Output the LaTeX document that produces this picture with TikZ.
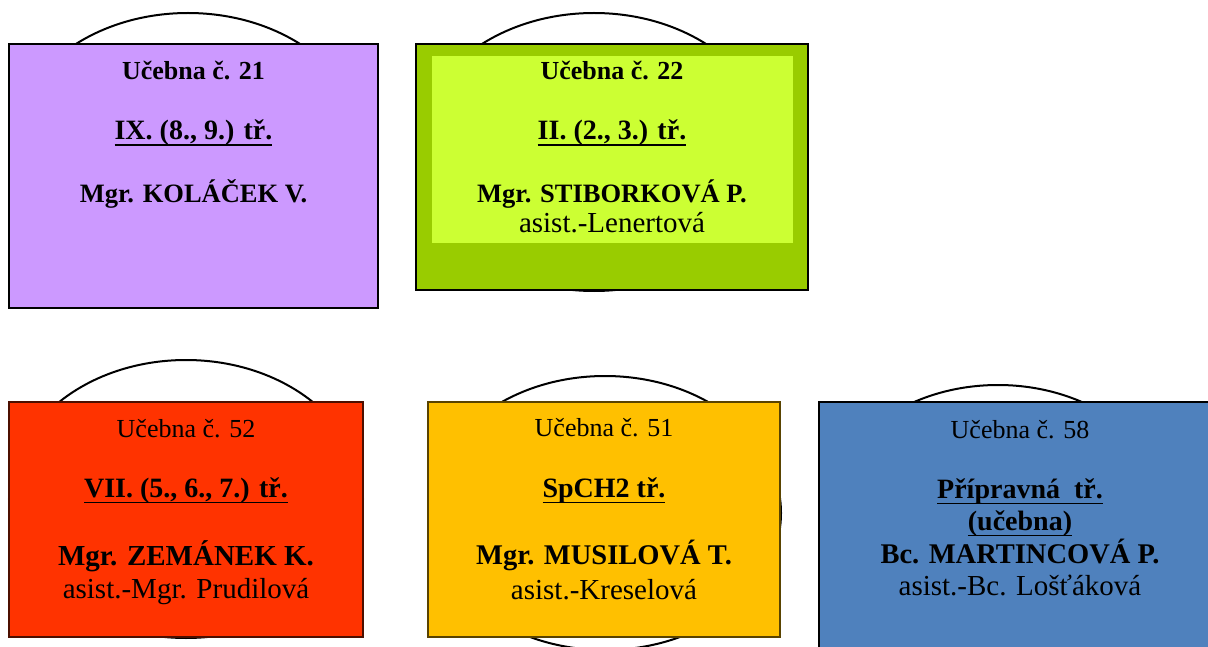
\documentclass[tikz,border=0pt]{standalone}
\usepackage{fontspec}
\setmainfont{Liberation Serif}
\usepackage{xcolor}
\usetikzlibrary{positioning}

\definecolor{fialova}{HTML}{CC99FF}
\definecolor{zelena}{HTML}{99CC00}
\definecolor{svetlezelena}{HTML}{CCFF33}
\definecolor{cervena}{HTML}{FF3300}
\definecolor{oranzova}{HTML}{FFC000}
\definecolor{modra}{HTML}{4F81BD}

% podtrzeny text
\newcommand{\podtrh}[1]{\setbox0=\hbox{#1}\rlap{\vrule width\wd0 height -4.5pt depth 6.4pt}\box0}

\tikzset{
  luk/.style={line width=2pt},
  ucebna/.style={draw=black, line width=2pt, inner sep=0pt},
  txt/.style={anchor=base, inner sep=0pt},
  nadpis/.style={txt, font=\fontsize{26}{30}\selectfont},
  trida/.style={txt, font=\fontsize{28}{32}\selectfont\bfseries},
  jmeno/.style={txt, font=\fontsize{28.5}{32}\selectfont\bfseries},
  asist/.style={txt, font=\fontsize{29}{33}\selectfont}
}

\begin{document}
\begin{tikzpicture}[x=1pt,y=-1pt]
\useasboundingbox (0,0) rectangle (1208,647);
\clip (0,0) rectangle (1208,647);
\def\lukA{(188,152) ellipse (178 and 139)}
  \def\lukB{(594,152) ellipse (178 and 139)}
  \def\lukC{(186,499) ellipse (177 and 139)}
  \def\lukD{(605,513) ellipse (176 and 137)}
  \def\lukE{(998,526) ellipse (176 and 141)}
      \draw[luk] \lukA;
      \draw[luk] \lukB;
      \draw[luk] \lukC;
      \draw[luk] \lukD;
      \draw[luk] \lukE;
      % horni rada
      \node[ucebna, fill=fialova, minimum width=369, minimum height=264] (u21) at (193.5,176) {};
      \node[ucebna, fill=zelena, minimum width=392, minimum height=246] (u22) at (612,167) {};
      \fill[svetlezelena] (432,56) rectangle (793,243);
      % dolni rada
      \node[ucebna, fill=cervena, draw=cervena!30!black, line width=1.2pt, minimum width=354, minimum height=235] (u52) at (186,519.5) {};
      \node[ucebna, fill=oranzova, draw=oranzova!35!black, line width=1.2pt, minimum width=352, minimum height=235] (u51) at (604,519.5) {};
      \node[ucebna, fill=modra, line width=2.5pt, minimum width=402, minimum height=280] (u58) at (1020,542) {};
      % texty
      \node[nadpis, font=\fontsize{26}{30}\selectfont\bfseries] (u21a) at (193.5,80) {Učebna č. 21};
      \node[trida] (u21b) at (193.5,140) {\podtrh{IX. (8., 9.) tř.}};
      \node[jmeno, font=\fontsize{26.5}{30}\selectfont\bfseries] (u21c) at (193.5,203) {Mgr. KOLÁČEK V.};
      \node[nadpis, font=\fontsize{26}{30}\selectfont\bfseries] (u22a) at (612,80) {Učebna č. 22};
      \node[trida] (u22b) at (612,140) {\podtrh{II. (2., 3.) tř.}};
      \node[jmeno, font=\fontsize{26.5}{30}\selectfont\bfseries] (u22c) at (612,203) {Mgr. STIBORKOVÁ P.};
      \node[asist] (u22d) at (612,233) {asist.-Lenertová};
      \node[nadpis] (u52a) at (186,437) {Učebna č. 52};
      \node[trida] (u52b) at (186,497) {\podtrh{VII. (5., 6., 7.) tř.}};
      \node[jmeno, font=\fontsize{29}{33}\selectfont\bfseries] (u52c) at (186,565) {Mgr. ZEMÁNEK K.};
      \node[asist] (u52d) at (186,598) {asist.-Mgr. Prudilová};
      \node[nadpis] (u51a) at (604,436) {Učebna č. 51};
      \node[trida] (u51b) at (604,497) {\podtrh{SpCH2 tř.}};
      \node[jmeno] (u51c) at (604,564) {Mgr. MUSILOVÁ T.};
      \node[asist] (u51d) at (604,599) {asist.-Kreselová};
      \node[nadpis] (u58a) at (1020,438) {Učebna č. 58};
      \node[trida] (u58b) at (1020,498) {\podtrh{Přípravná\ \ tř.}};
      \node[trida] (u58c) at (1020,530) {\podtrh{(učebna)}};
      \node[jmeno] (u58d) at (1020,563) {Bc. MARTINCOVÁ P.};
      \node[asist] (u58e) at (1020,595) {asist.-Bc. Lošťáková};
\end{tikzpicture}
\end{document}
